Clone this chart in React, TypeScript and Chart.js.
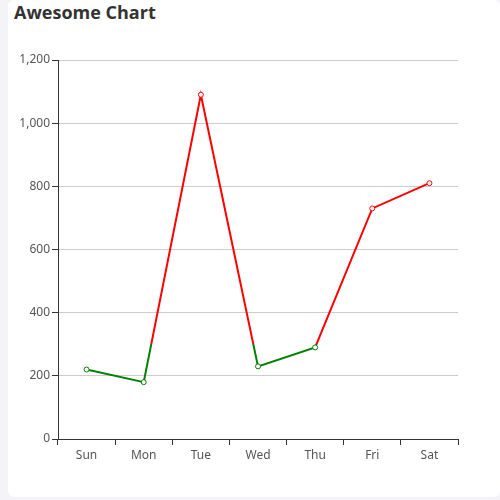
import { useEffect, useRef } from 'react';
import { Chart, registerables } from 'chart.js';

Chart.register(...registerables);

const days = ['Sun', 'Mon', 'Tue', 'Wed', 'Thu', 'Fri', 'Sat'];
const values = [220, 180, 1090, 230, 290, 730, 810];
const threshold = 300;
const yTicks = [0, 200, 400, 600, 800, 1000, 1200];

const HIGH = '#ff0000';
const LOW = '#008000';

export default function App() {
    const canvasRef = useRef<HTMLCanvasElement>(null);

    useEffect(() => {
        if (!canvasRef.current) return;
        const ctx = canvasRef.current.getContext('2d');
        if (!ctx) return;

        const chart = new Chart(ctx, {
            type: 'line',
            data: {
                labels: days,
                datasets: [{
                    data: values,
                    borderWidth: 2,
                    tension: 0,
                    borderColor: (c: any) => {
                        const { chart } = c;
                        const area = chart.chartArea;
                        if (!area) return HIGH;
                        const yPix = chart.scales.y.getPixelForValue(threshold);
                        const t = Math.min(1, Math.max(0, (yPix - area.top) / (area.bottom - area.top)));
                        const g = chart.ctx.createLinearGradient(0, area.top, 0, area.bottom);
                        g.addColorStop(0, HIGH);
                        g.addColorStop(t, HIGH);
                        g.addColorStop(t, LOW);
                        g.addColorStop(1, LOW);
                        return g;
                    },
                    pointRadius: 2.5,
                    pointBorderWidth: 1,
                    pointBackgroundColor: '#fff',
                    pointBorderColor: values.map(v => (v > threshold ? HIGH : LOW)),
                    fill: false
                }]
            },
            options: {
                responsive: false,
                animation: false,
                layout: { padding: { top: 60, right: 42, left: 0, bottom: 0 } },
                scales: {
                    x: {
                        offset: true,
                        afterFit: (s: any) => { s.height = 58; },
                        grid: {
                            offset: true,
                            drawOnChartArea: false,
                            drawTicks: true,
                            tickLength: 6,
                            tickColor: '#333'
                        },
                        border: { display: true, color: '#333', width: 1 },
                        ticks: {
                            color: '#555',
                            padding: 3,
                            font: { family: 'Noto Sans', size: 12 }
                        }
                    },
                    y: {
                        min: 0,
                        max: 1200,
                        afterFit: (s: any) => { s.width = 50; },
                        afterBuildTicks: (s: any) => { s.ticks = yTicks.map(v => ({ value: v })); },
                        grid: {
                            color: '#ccc',
                            tickColor: '#333',
                            tickLength: 6
                        },
                        border: { display: true, color: '#333', width: 1 },
                        ticks: {
                            color: '#555',
                            padding: 2,
                            font: { family: 'Noto Sans', size: 12 },
                            callback: (v: any) => Number(v).toLocaleString('en-US')
                        }
                    }
                },
                plugins: {
                    legend: { display: false },
                    title: { display: false },
                    tooltip: { enabled: false }
                }
            }
        });

        return () => {
            chart.destroy();
        };
    }, []);

    return (
        <div style={{ position: 'fixed', inset: 0, background: '#f3f3f8' }}>
            <div style={{
                position: 'absolute', left: 8, top: 0, width: 492, height: 497,
                background: '#fff', borderRadius: 6, overflow: 'hidden'
            }}>
                <div style={{
                    position: 'absolute', left: 6, top: 0,
                    font: 'bold 18px "Open Sans", sans-serif', color: '#333'
                }}>Awesome Chart</div>
                <canvas ref={canvasRef} width={492} height={497}
                    style={{ position: 'absolute', left: 0, top: 0 }} />
            </div>
        </div>
    );
}
